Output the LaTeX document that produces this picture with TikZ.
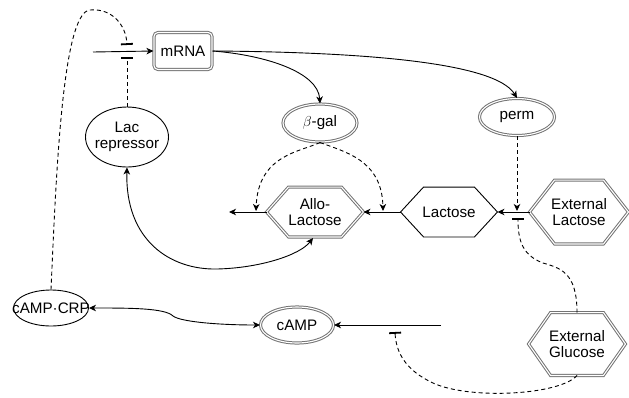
\documentclass[tikz,border=0pt]{standalone}
\usepackage{fontspec}
\setmainfont{Liberation Sans}
\usetikzlibrary{shapes.geometric,arrows.meta}
\newcommand\hexdraw[3]{\draw[#2] (#1.west) -- ([xshift=#3]#1.north west) -- ([xshift=-#3]#1.north east) -- (#1.east) -- ([xshift=-#3]#1.south east) -- ([xshift=#3]#1.south west) -- cycle;}
\begin{document}
\begin{tikzpicture}[x=1pt,y=-1pt,
  font=\fontsize{15.2}{16}\selectfont,
  line width=0.9pt,
  dbl/.style={draw=black!55, double=white, double distance=1.1pt, line width=1pt},
  sgl/.style={draw=black, line width=0.9pt},
  ell/.style={ellipse, inner sep=0pt, align=center},
  hexbox/.style={inner sep=0pt, align=center, minimum width=96pt},
  arr/.style={-{Stealth[length=7pt,width=6.5pt,inset=2pt]}},
  barr/.style={{Stealth[length=7pt,width=6.5pt,inset=2pt]}-{Stealth[length=7pt,width=6.5pt,inset=2pt]}},
  inh/.style={-{Bar[width=12pt,line width=1.8pt]}},
  dsh/.style={dash pattern=on 4pt off 3pt}]
\useasboundingbox (0,0) rectangle (629,397);

% nodes
\node[dbl, rounded corners=4pt, minimum width=58pt, minimum height=37pt, inner sep=0pt] (mrna) at (183,51) {mRNA};
\node[ell, sgl, minimum width=83pt, minimum height=60pt] (lacrep) at (127,137) {};
\node[align=center] at (lacrep) {Lac\\repressor};
\node[ell, dbl, minimum width=74pt, minimum height=38pt] (bgal) at (320,123) {$\beta$-gal};
\node[ell, dbl, minimum width=75pt, minimum height=37pt] (perm) at (517,117) {perm};
\node[ell, sgl, minimum width=75pt, minimum height=36pt] (crp) at (51,308) {};
\node at (crp) {cAMP·CRP};
\node[ell, dbl, minimum width=73pt, minimum height=36pt] (camp) at (297,325) {cAMP};

\node[hexbox, minimum height=49pt] (allo) at (315,212) {Allo-\\Lactose};
\hexdraw{allo}{dbl}{22pt}
\node[hexbox, minimum height=49pt] (lactose) at (449,212) {Lactose};
\hexdraw{lactose}{sgl}{23pt}
\node[hexbox, minimum width=98pt, minimum height=63pt] (extlac) at (579,212) {External\\Lactose};
\hexdraw{extlac}{dbl}{25pt}
\node[hexbox, minimum height=62pt] (extglu) at (577,344) {External\\Glucose};
\hexdraw{extglu}{dbl}{22pt}

% free ends
\coordinate (gin) at (93,52);
\coordinate (barB) at (127,57);
\coordinate (barT) at (127,45);
\coordinate (alloout) at (229,212);
\coordinate (t1) at (256,211);
\coordinate (t2) at (383,211);
\coordinate (permtip) at (517,211);
\coordinate (barL) at (518,218);
\coordinate (campin) at (441,325);
\coordinate (barC) at (395,332);

% solid connectors
\draw[arr] (gin) -- (mrna.west);
\draw[arr] (mrna.east) .. controls (265,55) and (318,72) .. (bgal.north);
\draw[arr] (mrna.east) .. controls (360,52) and (495,62) .. (perm.north);
\draw[arr] (allo.west) -- (alloout);
\draw[arr] (lactose.west) -- (allo.east);
\draw[arr] (extlac.west) -- (lactose.east);
\draw[arr] (campin) -- (camp.east);
\draw[barr] (lacrep.south) .. controls (125,240) and (170,270) .. (217,269) .. controls (260,268) and (300,255) .. (313,238);
\draw[barr] (crp.east) .. controls (130,308) and (165,308) .. (173,316) .. controls (181,322) and (220,325) .. (camp.west);

% dashed connectors
\draw[dsh, inh] (lacrep.north) -- (barB);
\draw[dsh, inh] (crp.north) .. controls (56,180) and (62,12) .. (90,10) .. controls (112,8) and (126,25) .. (barT);
\draw[dsh, arr] (bgal.south) .. controls (300,152) and (258,155) .. (t1);
\draw[dsh, arr] (bgal.south) .. controls (345,152) and (382,160) .. (t2);
\draw[dsh, arr] (perm.south) -- (permtip);
\draw[dsh, inh] (extglu.north) .. controls (577,272) and (560,268) .. (543,263) .. controls (522,255) and (518,240) .. (barL);
\draw[dsh, inh] (extglu.south) .. controls (560,395) and (470,400) .. (433,383) .. controls (405,370) and (396,352) .. (barC);
\end{tikzpicture}
\end{document}
